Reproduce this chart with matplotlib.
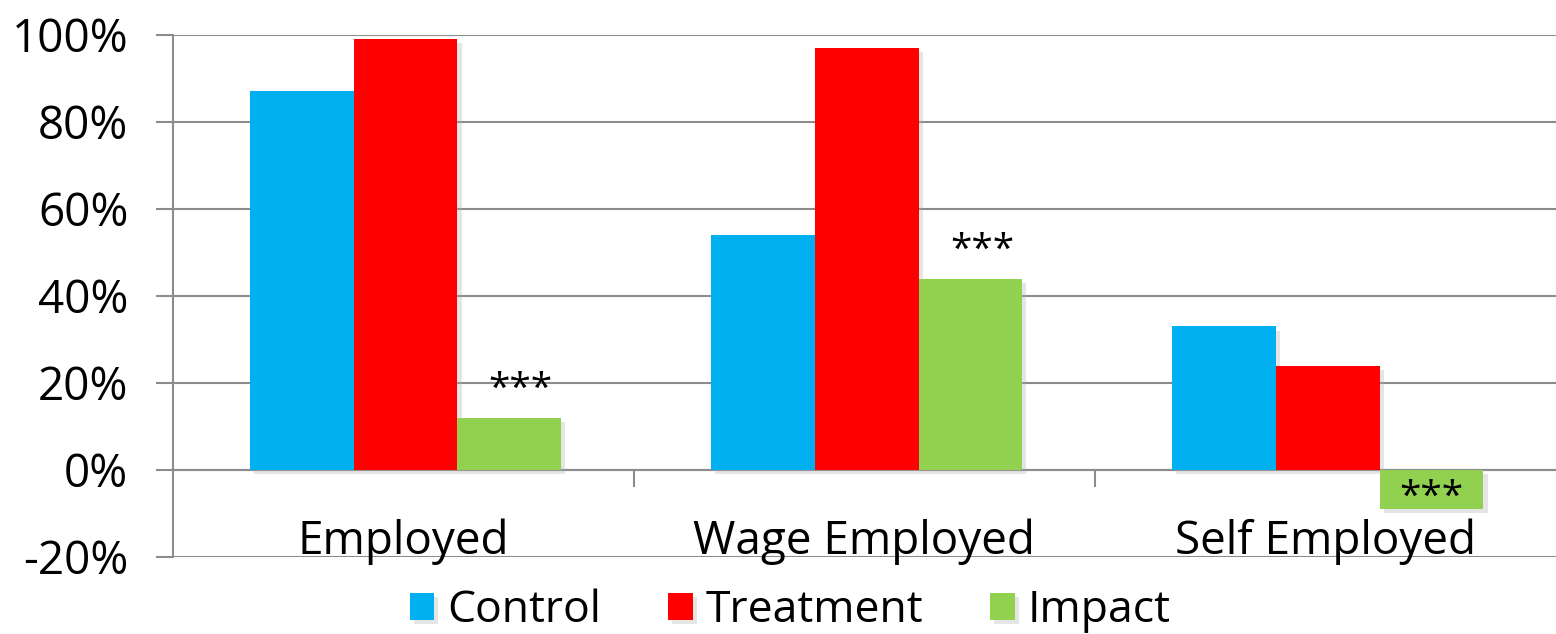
import numpy as np
import matplotlib.pyplot as plt
from matplotlib import patheffects as pe
from matplotlib.ticker import PercentFormatter

plt.rcParams['font.family'] = ['Open Sans', 'DejaVu Sans']
plt.rcParams['axes.unicode_minus'] = False

categories = ['Employed', 'Wage Employed', 'Self Employed']
control = [87, 54, 33]
treatment = [99, 97, 24]
impact = [12, 44, -9]
stars = ['***', '***', '***']

colors = ['#00b0f0', '#ff0000', '#92d050']
names = ['Control', 'Treatment', 'Impact']

fig = plt.figure(figsize=(15.56, 6.34), dpi=100)
ax = fig.add_axes([0.111, 0.1215, 0.889, 0.8235])

x = np.arange(len(categories))
w = 0.225
shadow = [pe.SimplePatchShadow(offset=(3, -3), shadow_rgbFace='#aaaaaa', alpha=0.3), pe.Normal()]

for i, (vals, c, n) in enumerate(zip([control, treatment, impact], colors, names)):
    bars = ax.bar(x + (i - 1) * w + 0.005, vals, w, color=c, label=n, zorder=3)
    for b in bars:
        b.set_path_effects(shadow)

# significance stars on the impact bars
for xi, v, s in zip(x, impact, stars):
    if v >= 0:
        ax.text(xi + w + 0.03, v + 2, s, ha='center', va='bottom', fontsize=28)
    else:
        ax.text(xi + w + 0.005, v / 2 - 2, s, ha='center', va='center', fontsize=28)

for xi, cat in zip(x, categories):
    ax.text(xi, -16.5, cat, ha='center', va='center', fontsize=33)

ax.set_xlim(-0.5, 2.5)
ax.set_ylim(-20, 100)
ax.set_yticks(np.arange(-20, 101, 20))
ax.yaxis.set_major_formatter(PercentFormatter(decimals=0))
ax.set_xticks([])
ax.grid(axis='y', color='#8c8c8c', linewidth=1.5, zorder=0)
ax.axhline(0, color='#8c8c8c', linewidth=1.5, zorder=1)
ax.vlines([0.5, 1.5], -4, 0, color='#8c8c8c', linewidth=1.5)
ax.tick_params(axis='y', length=12, width=1.5, color='#8c8c8c', labelsize=33, pad=20)
for s in ['top', 'right', 'bottom']:
    ax.spines[s].set_visible(False)
ax.spines['left'].set_color('#8c8c8c')
ax.spines['left'].set_linewidth(1.5)

fig.legend(loc='center', bbox_to_anchor=(0.508, 0.036), ncol=3, frameon=False,
           fontsize=32, handlelength=0.55, handleheight=0.55, handletextpad=0.3,
           columnspacing=1.5)

fig.savefig('out.png', dpi=100)
